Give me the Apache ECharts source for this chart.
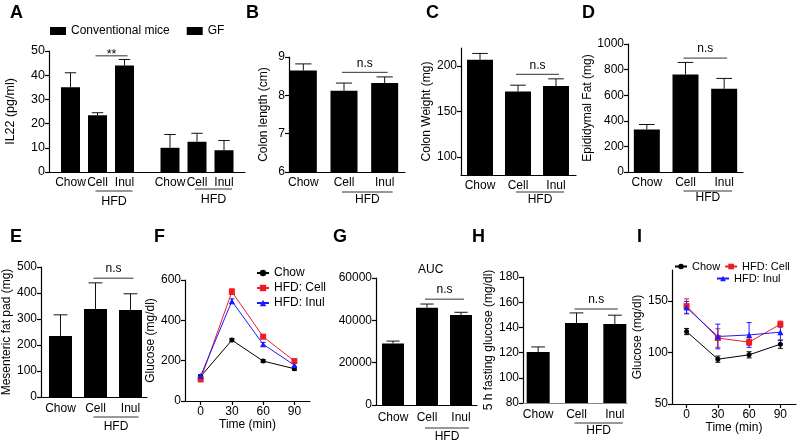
<!DOCTYPE html>
<html><head><meta charset="utf-8">
<script src="https://cdn.jsdelivr.net/npm/echarts@6/dist/echarts.min.js"></script>
<style>html,body{margin:0;padding:0;background:#fff}#c{width:800px;height:445px}</style>
</head><body><div id="c"></div>
<script>
// ---------- data ----------
const categories = ['Chow', 'Cell', 'Inul'];
const aConvMean = [35, 23.5, 44];
const aConvSem = [6, 1, 2.5];
const aGfMean = [10, 12.5, 9];
const aGfSem = [5.5, 3.5, 4];
const bMean = [8.65, 8.12, 8.32];
const bSem = [0.17, 0.2, 0.16];
const cMean = [207, 172, 178];
const cSem = [7, 7, 8];
const dMean = [332, 762, 650];
const dSem = [39, 94, 81];
const eMean = [235, 338, 335];
const eSem = [81, 101, 62];
const gMean = [29100, 46000, 42500];
const gSem = [1100, 1700, 1300];
const hMean = [120.5, 143.5, 142.7];
const hSem = [4, 8, 7];
const timePoints = [0, 30, 60, 90];
const fChow = [121, 302, 198, 160];
const fChowSem = [6, 8, 7, 8];
const fCell = [107, 542, 319, 198];
const fCellSem = [7, 14, 10, 8];
const fInul = [124, 495, 281, 178];
const fInulSem = [7, 12, 9, 8];
const iChow = [120.3, 93.5, 97.7, 108];
const iChowSem = [3, 3, 3, 4];
const iCell = [145, 114, 110, 127.4];
const iCellSem = [7, 9, 3, 3];
const iInul = [143.5, 115.5, 117, 119.7];
const iInulSem = [6, 12, 12, 8];
const cYTicks = [100, 150, 200];
const iYTicks = [50, 100, 150];
const timeTicks = [0, 30, 60, 90];

// ---------- helpers ----------
const FONT = "'Liberation Sans', Arial, sans-serif";
const BLACK = '#000';
const RED = '#ee1c25';
const BLUE = '#1a1aff';
const grids = [], xAxes = [], yAxes = [], series = [];
const plain = v => String(v);

function addFrame(p) {
  const gi = grids.length;
  const fs = p.fs || 12;
  const xLineColor = p.xLineColor || BLACK;
  grids.push({left: p.l, top: p.t, width: p.r - p.l, height: p.b - p.t});
  const xa = {gridIndex: gi, type: 'value', min: p.xmin !== undefined ? p.xmin : 0, max: p.xmax !== undefined ? p.xmax : 1,
    axisLine: {show: true, onZero: false, lineStyle: {color: xLineColor, width: 1.2}},
    axisTick: {show: false}, axisLabel: {show: false}, splitLine: {show: false}};
  if (p.xTicks) {
    xa.axisTick = {show: true, length: 4, customValues: p.xTicks, lineStyle: {color: BLACK, width: 1.2}};
    xa.axisLabel = {show: true, customValues: p.xTicks, fontSize: fs, fontFamily: FONT, color: BLACK, margin: 5, formatter: plain};
    xa.name = p.xName; xa.nameLocation = 'middle'; xa.nameGap = p.xNameGap;
    xa.nameTextStyle = {fontSize: fs, fontFamily: FONT, color: BLACK};
  }
  xAxes.push(xa);
  const ya = {gridIndex: gi, type: 'value', min: p.min, max: p.max,
    axisLine: {show: true, onZero: false, lineStyle: {color: BLACK, width: 1.2}},
    axisTick: {show: true, length: 4, lineStyle: {color: BLACK, width: 1.2}},
    axisLabel: {fontSize: fs, fontFamily: FONT, color: BLACK, margin: 4, formatter: plain}, splitLine: {show: false},
    name: p.name || '', nameLocation: 'middle', nameRotate: 90, nameGap: p.gap || 20,
    nameTextStyle: {fontSize: fs, fontFamily: FONT, color: BLACK}};
  if (p.interval) ya.interval = p.interval;
  if (p.yTicks) { ya.axisTick.customValues = p.yTicks; ya.axisLabel.customValues = p.yTicks; }
  yAxes.push(ya);
  return gi;
}

function addBarGrid(p, left, width, fs, margin) {
  const gi = grids.length;
  grids.push({left: left, top: p.t, width: width, height: p.b - p.t});
  xAxes.push({gridIndex: gi, type: 'category', data: categories, axisLine: {show: false}, axisTick: {show: false},
    axisLabel: {fontSize: fs || 12, fontFamily: FONT, color: BLACK, margin: margin || 5, interval: 0}});
  yAxes.push({gridIndex: gi, type: 'value', min: p.min, max: p.max, show: false});
  return gi;
}

function errRender(capHalf, color, both) {
  return function (params, api) {
    const x = api.value(0), m = api.value(1), s = api.value(2);
    const top = api.coord([x, m + s]);
    const bot = api.coord([x, both ? m - s : m]);
    const ch = [
      {type: 'line', shape: {x1: top[0], y1: top[1], x2: bot[0], y2: bot[1]}, style: {stroke: color, lineWidth: 1}},
      {type: 'line', shape: {x1: top[0] - capHalf, y1: top[1], x2: top[0] + capHalf, y2: top[1]}, style: {stroke: color, lineWidth: 1}}
    ];
    if (both) ch.push({type: 'line', shape: {x1: bot[0] - capHalf, y1: bot[1], x2: bot[0] + capHalf, y2: bot[1]}, style: {stroke: color, lineWidth: 1}});
    return {type: 'group', children: ch};
  };
}

function addBars(gi, name, mean, sem, barWidth) {
  series.push({type: 'bar', name: name, xAxisIndex: gi, yAxisIndex: gi, data: mean, barWidth: barWidth,
    itemStyle: {color: BLACK}, silent: true, z: 2});
  series.push({type: 'custom', xAxisIndex: gi, yAxisIndex: gi, data: mean.map((m, i) => [i, m, sem[i]]),
    renderItem: errRender(barWidth * 0.3, '#111', false), clip: false, silent: true, z: 3});
}

function annotRender(a) {
  return function (params, api) {
    const ch = [];
    const fs = a.fs || 12;
    const base = api.coord([0, a.min])[1];
    if (a.sig) {
      const p1 = api.coord([1, a.sig.level]), p2 = api.coord([2, a.sig.level]);
      const x1 = p1[0] - 2, x2 = p2[0] + 3;
      ch.push({type: 'line', shape: {x1: x1, y1: p1[1], x2: x2, y2: p1[1]}, style: {stroke: '#333', lineWidth: 1}});
      ch.push({type: 'text', style: {text: a.sig.text, x: (x1 + x2) / 2, y: p1[1] - a.sig.gap, align: 'center',
        verticalAlign: 'bottom', fontSize: fs, fontFamily: FONT, fill: BLACK}});
    }
    if (a.hfd) {
      const c1 = api.coord([1, a.min])[0], c2 = api.coord([2, a.min])[0];
      const x1 = c1 - 2, x2 = c2 + 8;
      ch.push({type: 'line', shape: {x1: x1, y1: base + a.hfd.line, x2: x2, y2: base + a.hfd.line}, style: {stroke: '#333', lineWidth: 1}});
      ch.push({type: 'text', style: {text: 'HFD', x: (x1 + x2) / 2, y: base + a.hfd.text, align: 'center',
        verticalAlign: 'top', fontSize: fs, fontFamily: FONT, fill: BLACK}});
    }
    return {type: 'group', children: ch};
  };
}
function addAnnot(gi, a) {
  series.push({type: 'custom', xAxisIndex: gi, yAxisIndex: gi, data: [[0, a.min]], clip: false, silent: true,
    renderItem: annotRender(a), z: 5});
}

function addLine(gi, name, x, y, sem, symbol, size, color) {
  series.push({type: 'line', name: name, xAxisIndex: gi, yAxisIndex: gi, data: x.map((t, i) => [t, y[i]]),
    symbol: symbol, symbolSize: size, lineStyle: {color: color, width: 1}, itemStyle: {color: color}, silent: true, z: 4});
  series.push({type: 'custom', xAxisIndex: gi, yAxisIndex: gi, data: x.map((t, i) => [t, y[i], sem[i]]),
    renderItem: errRender(2.5, color, true), clip: false, silent: true, z: 3});
}

// ---------- panels ----------
// A
const pA = {l: 49, r: 245, t: 51, b: 172, min: 0, max: 50, interval: 10, name: 'IL22 (pg/ml)', gap: 32, fs: 12.5};
addFrame(pA);
const gA1 = addBarGrid(pA, 57, 81, 12, 5);
addBars(gA1, 'Conventional mice', aConvMean, aConvSem, 19);
addAnnot(gA1, {min: 0, fs: 12.5, sig: {level: 48, text: '**', gap: -5}, hfd: {line: 19, text: 23}});
const gA2 = addBarGrid(pA, 156.5, 81, 12, 5);
addBars(gA2, 'GF', aGfMean, aGfSem, 19);
addAnnot(gA2, {min: 0, fs: 12.5, hfd: {line: 17, text: 21}});

// B
const pB = {l: 289, r: 405, t: 57, b: 172, min: 6, max: 9, interval: 1, name: 'Colon length (cm)', gap: 19};
addFrame(pB);
const gB = addBarGrid(pB, 283, 122, 12, 5);
addBars(gB, 'B', bMean, bSem, 27);
addAnnot(gB, {min: 6, sig: {level: 8.6, text: 'n.s', gap: 3}, hfd: {line: 20, text: 22}});

// C
const pC = {l: 461, r: 576, t: 48, b: 175, min: 80, max: 220, yTicks: cYTicks, name: 'Colon Weight (mg)', gap: 28};
addFrame(pC);
const gC = addBarGrid(pC, 461, 114, 12, 5);
addBars(gC, 'C', cMean, cSem, 26);
addAnnot(gC, {min: 80, sig: {level: 191, text: 'n.s', gap: 3}, hfd: {line: 17, text: 19}});

// D
const pD = {l: 628, r: 743, t: 44, b: 172, min: 0, max: 1000, interval: 200, name: 'Epididymal Fat (mg)', gap: 29};
addFrame(pD);
const gD = addBarGrid(pD, 627.5, 116, 12, 5);
addBars(gD, 'D', dMean, dSem, 26);
addAnnot(gD, {min: 0, sig: {level: 890, text: 'n.s', gap: 3}, hfd: {line: 19, text: 20}});

// E
const pE = {l: 41, r: 147, t: 267, b: 397, min: 0, max: 500, interval: 100, name: 'Mesenteric fat pad (mg)', gap: 25};
addFrame(pE);
const gE = addBarGrid(pE, 43, 105, 12, 6);
addBars(gE, 'E', eMean, eSem, 23);
addAnnot(gE, {min: 0, sig: {level: 457, text: 'n.s', gap: 3}, hfd: {line: 20, text: 24}});

// F
const pF = {l: 185, r: 310, t: 280, b: 401, min: 0, max: 600, interval: 200, xmin: -15, xmax: 105,
  xTicks: timeTicks, xName: 'Time (min)', xNameGap: 17, name: 'Glucose (mg/dl)', gap: 24};
const gF = addFrame(pF);
addLine(gF, 'Chow', timePoints, fChow, fChowSem, 'circle', 5, BLACK);
addLine(gF, 'HFD: Cell', timePoints, fCell, fCellSem, 'rect', 6, RED);
addLine(gF, 'HFD: Inul', timePoints, fInul, fInulSem, 'triangle', 6, BLUE);

// G
const pG = {l: 376, r: 477, t: 278, b: 405, min: 0, max: 60000, interval: 20000, name: ''};
addFrame(pG);
const gG = addBarGrid(pG, 376, 102, 12, 7);
addBars(gG, 'G', gMean, gSem, 22);
addAnnot(gG, {min: 0, sig: {level: 50000, text: 'n.s', gap: 3}, hfd: {line: 23, text: 26}});

// H
const pH = {l: 523, r: 627, t: 277, b: 403, min: 80, max: 180, interval: 20, name: '5 h fasting glucose (mg/dl)', gap: 20,
  xLineColor: '#888'};
addFrame(pH);
const gH = addBarGrid(pH, 519, 115, 12, 6);
addBars(gH, 'H', hMean, hSem, 23);
addAnnot(gH, {min: 80, sig: {level: 154.6, text: 'n.s', gap: 3}, hfd: {line: 20, text: 22}});

// I
const pI = {l: 672, r: 796, t: 270, b: 404, min: 50, max: 180, yTicks: iYTicks, xmin: -14, xmax: 105,
  xTicks: timeTicks, xName: 'Time (min)', xNameGap: 15, name: 'Glucose (mg/dl)', gap: 23};
const gI = addFrame(pI);
addLine(gI, 'Chow', timePoints, iChow, iChowSem, 'circle', 5, BLACK);
addLine(gI, 'HFD: Cell', timePoints, iCell, iCellSem, 'rect', 6, RED);
addLine(gI, 'HFD: Inul', timePoints, iInul, iInulSem, 'triangle', 6, BLUE);

// ---------- titles & legends ----------
const letterStyle = {fontSize: 18, fontWeight: 'bold', fontFamily: FONT, color: BLACK};
const letters = [['A', 10, 4], ['B', 246, 4], ['C', 426, 4], ['D', 582, 4], ['E', 10, 228], ['F', 154, 228],
  ['G', 333, 228], ['H', 472, 228], ['I', 637, 228]];
const titles = letters.map(l => ({text: l[0], left: l[1], top: l[2], padding: 0, textStyle: letterStyle}));
titles.push({text: 'AUC', left: 418, top: 264, padding: 0, textStyle: {fontSize: 12, fontWeight: 'normal', fontFamily: FONT, color: BLACK}});

const legText = {fontSize: 12, fontFamily: FONT, color: BLACK};
const option = {
  animation: false,
  backgroundColor: '#fff',
  title: titles,
  legend: [
    {data: ['Conventional mice', 'GF'], left: 50, top: 25, padding: 0, itemWidth: 16, itemHeight: 8, itemGap: 17,
      icon: 'rect', selectedMode: false, textStyle: legText},
    {data: ['Chow', 'HFD: Cell', 'HFD: Inul'], orient: 'vertical', left: 256, top: 267, padding: 0, itemWidth: 12,
      itemHeight: 8, itemGap: 3, selectedMode: false, textStyle: legText},
    {data: ['Chow', 'HFD: Cell'], left: 674, top: 261, padding: 0, itemWidth: 12, itemHeight: 7, itemGap: 4,
      selectedMode: false, textStyle: {fontSize: 11, fontFamily: FONT, color: BLACK}},
    {data: ['HFD: Inul'], left: 716, top: 273, padding: 0, itemWidth: 12, itemHeight: 7, itemGap: 4,
      selectedMode: false, textStyle: {fontSize: 11, fontFamily: FONT, color: BLACK}}
  ],
  grid: grids,
  xAxis: xAxes,
  yAxis: yAxes,
  series: series
};
const chart = echarts.init(document.getElementById('c'), null, {renderer: 'canvas'});
chart.setOption(option);
</script>
</body></html>
